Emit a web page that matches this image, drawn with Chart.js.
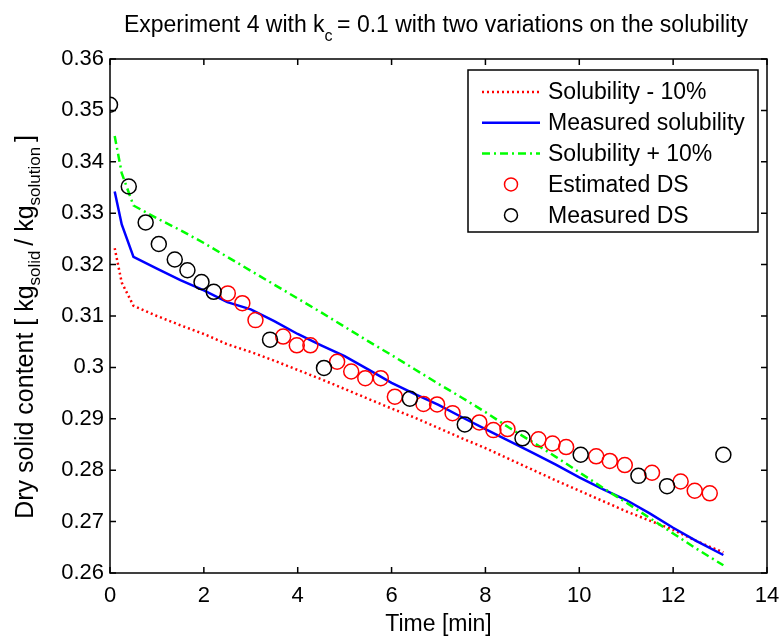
<!DOCTYPE html>
<html>
<head>
<meta charset="utf-8">
<script src="https://cdn.jsdelivr.net/npm/chart.js"></script>
<style>
  html, body { margin: 0; padding: 0; background: #fff; }
  #wrap { width: 779px; height: 637px; }
</style>
</head>
<body>
<div id="wrap"><canvas id="chart" width="779" height="637"></canvas></div>
<script>
// simulated solubility curves (time in min)
const lineTime = [0.1, 0.25, 0.5, 1, 1.5, 2, 2.5, 3, 3.5, 4, 4.5, 5, 5.5, 6, 6.5, 7, 7.5, 8, 8.5, 9, 9.5, 10, 10.5, 11, 11.5, 12, 12.5, 13.07];
const solMinus = [0.3232, 0.3165, 0.3120, 0.3100, 0.3082, 0.3065, 0.3045, 0.3030, 0.3013, 0.2995, 0.2977, 0.2958, 0.2939, 0.2920, 0.2902, 0.2882, 0.2862, 0.2843, 0.2822, 0.2801, 0.2780, 0.2760, 0.2740, 0.2720, 0.2702, 0.2684, 0.2662, 0.2640];
const solMeasured = [0.3342, 0.3278, 0.3215, 0.3192, 0.3170, 0.3150, 0.3127, 0.3113, 0.3090, 0.3065, 0.3043, 0.3022, 0.2996, 0.2970, 0.2948, 0.2927, 0.2903, 0.2880, 0.2857, 0.2834, 0.2811, 0.2786, 0.2763, 0.2742, 0.2716, 0.2688, 0.2662, 0.2635];
const solPlus = [0.3450, 0.3378, 0.3315, 0.3290, 0.3267, 0.3242, 0.3215, 0.3188, 0.3161, 0.3134, 0.3107, 0.3079, 0.3051, 0.3024, 0.2996, 0.2968, 0.2941, 0.2913, 0.2883, 0.2855, 0.2826, 0.2796, 0.2766, 0.2737, 0.2707, 0.2677, 0.2647, 0.2615];

// dry solid samples
const estimatedTime = [2.51, 2.82, 3.10, 3.69, 3.98, 4.27, 4.84, 5.14, 5.44, 5.77, 6.07, 6.68, 6.97, 7.30, 7.87, 8.17, 8.47, 9.13, 9.43, 9.72, 10.36, 10.65, 10.97, 11.55, 12.16, 12.46, 12.78];
const estimatedDS = [0.3144, 0.3125, 0.3092, 0.3060, 0.3043, 0.3043, 0.3011, 0.2992, 0.2979, 0.2979, 0.2943, 0.2929, 0.2928, 0.2911, 0.2893, 0.2878, 0.2880, 0.2860, 0.2852, 0.2845, 0.2827, 0.2818, 0.2810, 0.2795, 0.2778, 0.2760, 0.2755];
const measuredTime = [0, 0.40, 0.76, 1.04, 1.38, 1.65, 1.95, 2.21, 3.41, 4.56, 6.39, 7.56, 8.79, 10.03, 11.26, 11.87, 13.07];
const measuredDS = [0.3511, 0.3352, 0.3282, 0.3240, 0.3210, 0.3189, 0.3166, 0.3147, 0.3054, 0.2999, 0.2939, 0.2889, 0.2862, 0.2830, 0.2789, 0.2769, 0.2830];

const legendLabels = ['Solubility - 10%', 'Measured solubility', 'Solubility + 10%', 'Estimated DS', 'Measured DS'];
const xTicks = [0, 2, 4, 6, 8, 10, 12, 14];
const yTicks = [0.26, 0.27, 0.28, 0.29, 0.30, 0.31, 0.32, 0.33, 0.34, 0.35, 0.36];

const FONT = '"Liberation Sans", Arial, sans-serif';

function pairs(xs, ys) {
  return xs.map(function(x, i) { return { x: x, y: ys[i] }; });
}

const colors = ['rgb(255,0,0)', 'rgb(0,0,255)', 'rgb(0,255,0)', 'rgb(255,0,0)', 'rgb(0,0,0)'];
const dashes = [[2, 3], [], [8, 4, 2, 4], null, null];

// draws a row of text runs where some runs are subscripts
function drawRuns(ctx, runs, size, subSize, subDrop) {
  var total = 0;
  runs.forEach(function(r) {
    ctx.font = (r.sub ? subSize : size) + 'px ' + FONT;
    r.w = ctx.measureText(r.text).width;
    total += r.w;
  });
  var x = -total / 2;
  runs.forEach(function(r) {
    ctx.font = (r.sub ? subSize : size) + 'px ' + FONT;
    ctx.fillText(r.text, x, r.sub ? subDrop : 0);
    x += r.w;
  });
}

const framePlugin = {
  id: 'frame',
  afterDraw: function(chart) {
    var ctx = chart.ctx;
    var a = chart.chartArea;
    var xs = chart.scales.x, ys = chart.scales.y;
    ctx.save();
    ctx.strokeStyle = '#000';
    ctx.lineWidth = 1.5;
    ctx.strokeRect(a.left, a.top, a.right - a.left, a.bottom - a.top);
    ctx.beginPath();
    xTicks.forEach(function(t) {
      var px = xs.getPixelForValue(t);
      ctx.moveTo(px, a.bottom); ctx.lineTo(px, a.bottom - 6);
      ctx.moveTo(px, a.top); ctx.lineTo(px, a.top + 6);
    });
    yTicks.forEach(function(t) {
      var py = ys.getPixelForValue(t);
      ctx.moveTo(a.left, py); ctx.lineTo(a.left + 6, py);
      ctx.moveTo(a.right, py); ctx.lineTo(a.right - 6, py);
    });
    ctx.stroke();

    // legend box
    var lx = 468, ly = 70, lw = 290, lh = 162;
    ctx.fillStyle = '#fff';
    ctx.fillRect(lx, ly, lw, lh);
    ctx.strokeRect(lx, ly, lw, lh);
    ctx.font = '23px ' + FONT;
    ctx.textBaseline = 'middle';
    ctx.textAlign = 'left';
    legendLabels.forEach(function(label, i) {
      var y = 92 + i * 30.8;
      ctx.strokeStyle = colors[i];
      if (dashes[i]) {
        ctx.lineWidth = 2.5;
        ctx.setLineDash(dashes[i]);
        ctx.beginPath();
        ctx.moveTo(482, y); ctx.lineTo(540, y);
        ctx.stroke();
        ctx.setLineDash([]);
      } else {
        ctx.lineWidth = 1.5;
        ctx.beginPath();
        ctx.arc(511, y, 6.5, 0, Math.PI * 2);
        ctx.stroke();
      }
      ctx.fillStyle = '#000';
      ctx.fillText(label, 548, y + 1);
    });

    // title with subscript
    ctx.fillStyle = '#000';
    ctx.textBaseline = 'alphabetic';
    ctx.textAlign = 'left';
    ctx.save();
    ctx.translate(436, 32);
    drawRuns(ctx, [
      { text: 'Experiment 4 with k' },
      { text: 'c ', sub: true },
      { text: '= 0.1 with two variations on the solubility' }
    ], 23, 16, 9);
    ctx.restore();

    // y axis title with subscripts
    ctx.save();
    ctx.translate(33, 327);
    ctx.rotate(-Math.PI / 2);
    drawRuns(ctx, [
      { text: 'Dry solid content [ kg' },
      { text: 'solid ', sub: true },
      { text: '/ kg' },
      { text: 'solution ', sub: true },
      { text: ']' }
    ], 25, 17, 7);
    ctx.restore();

    // x axis title
    ctx.font = '23px ' + FONT;
    ctx.textAlign = 'center';
    ctx.fillText('Time [min]', (a.left + a.right) / 2, 631);
    ctx.restore();
  }
};

new Chart(document.getElementById('chart'), {
  type: 'scatter',
  data: {
    datasets: [
      {
        label: legendLabels[0], data: pairs(lineTime, solMinus), showLine: true,
        borderColor: colors[0], borderWidth: 2.5, borderDash: dashes[0], pointRadius: 0, order: 4
      },
      {
        label: legendLabels[1], data: pairs(lineTime, solMeasured), showLine: true,
        borderColor: colors[1], borderWidth: 2.5, pointRadius: 0, order: 3
      },
      {
        label: legendLabels[2], data: pairs(lineTime, solPlus), showLine: true,
        borderColor: colors[2], borderWidth: 2.5, borderDash: dashes[2], pointRadius: 0, order: 2
      },
      {
        label: legendLabels[3], data: pairs(estimatedTime, estimatedDS),
        borderColor: colors[3], backgroundColor: 'rgba(0,0,0,0)', borderWidth: 1.5, pointRadius: 7.5, order: 1
      },
      {
        label: legendLabels[4], data: pairs(measuredTime, measuredDS),
        borderColor: colors[4], backgroundColor: 'rgba(0,0,0,0)', borderWidth: 1.5, pointRadius: 7.5, order: 0
      }
    ]
  },
  options: {
    responsive: false,
    animation: false,
    layout: { padding: { left: 0, top: 59, right: 12, bottom: 0 } },
    plugins: { legend: { display: false }, tooltip: { enabled: false } },
    scales: {
      x: {
        type: 'linear', min: 0, max: 14,
        afterFit: function(s) { s.height = 64; s.paddingLeft = 0; s.paddingRight = 0; },
        afterBuildTicks: function(s) { s.ticks = xTicks.map(function(v) { return { value: v }; }); },
        grid: { display: false, drawTicks: false }, border: { display: false },
        ticks: { color: '#000', font: { family: FONT, size: 22 }, padding: 10, maxRotation: 0 }
      },
      y: {
        type: 'linear', min: 0.26, max: 0.36,
        afterFit: function(s) { s.width = 110; s.paddingTop = 0; s.paddingBottom = 0; },
        afterBuildTicks: function(s) { s.ticks = yTicks.map(function(v) { return { value: v }; }); },
        grid: { display: false, drawTicks: false }, border: { display: false },
        ticks: {
          color: '#000', font: { family: FONT, size: 22 }, padding: 6,
          callback: function(v) { return String(Number(v.toFixed(2))); }
        }
      }
    }
  },
  plugins: [framePlugin]
});
</script>
</body>
</html>
